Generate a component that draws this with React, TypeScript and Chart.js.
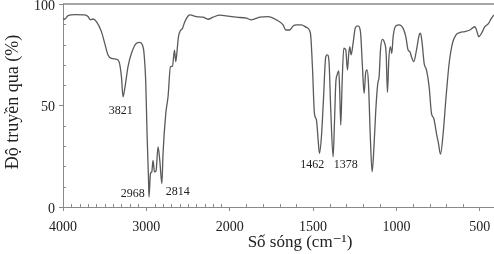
import React, { useEffect, useRef } from 'react';
import { Chart, registerables } from 'chart.js';

Chart.register(...registerables);

// Spectrum (wavenumber in cm-1, transmittance in %)
const wavenumbers = [
  4000, 3980, 3940, 3860, 3740, 3700, 3671, 3640, 3599, 3539, 3500, 3460, 3419, 3359, 3328, 3299,
  3280, 3256, 3220, 3179, 3119, 3079, 3047, 3028, 3007, 2992, 2975, 2968, 2951, 2935, 2920, 2903,
  2884, 2860, 2839, 2814, 2800, 2767, 2740, 2711, 2687, 2663, 2647, 2631, 2615, 2591, 2567, 2539,
  2499, 2479, 2399, 2320, 2260, 2200, 2119, 2039, 1960, 1900, 1870, 1820, 1770, 1720, 1680, 1664,
  1640, 1620, 1600, 1570, 1540, 1516, 1504, 1492, 1480, 1468, 1462, 1450, 1438, 1424, 1414, 1404,
  1394, 1380, 1372, 1364, 1356, 1346, 1340, 1334, 1326, 1316, 1304, 1294, 1286, 1280, 1272, 1260,
  1246, 1230, 1216, 1204, 1194, 1184, 1176, 1168, 1156, 1146, 1136, 1124, 1112, 1104, 1096, 1085,
  1073, 1062, 1054, 1046, 1037, 1028, 1020, 1004, 984, 960, 944, 930, 920, 910, 896, 880, 864, 856,
  846, 834, 820, 804, 790, 776, 760, 748, 736, 720, 704, 684, 664, 644, 620, 590, 560, 530, 520, 506,
  490, 470, 450, 430, 416,
];
const transmittance = [
  93, 92.5, 94.3, 94.8, 94.6, 93.8, 92.2, 92.6, 91.3, 86.4, 80.7, 74.9, 73.2, 72.8, 71.6, 64.2,
  54.3, 59.2, 69.1, 75.7, 80.7, 81.1, 79.8, 75.7, 61, 36.4, 14.8, 4.9, 16.5, 17.3, 23, 17.3,
  17.8, 29.6, 23, 11.5, 26.4, 46.1, 54.3, 69.1, 69.4, 77.3, 71.6, 77.3, 83.9, 86.9, 88, 91.3,
  94.1, 94.6, 93.8, 93.5, 92.5, 93.5, 94.5, 94.1, 93.5, 93, 92.2, 93.5, 93.8, 92.2, 89.7, 87.2,
  87.2, 89.2, 89.7, 89.7, 88.5, 85.6, 69.1, 46.1, 42.8, 31.3, 26.4, 34.6, 52.7, 74, 74.9, 70.8,
  47.7, 24.7, 41.2, 60.9, 65, 67, 56, 40.3, 60.9, 78.2, 77.3, 67.5, 75.7, 79, 74.9, 80.7,
  88.5, 89.2, 86.4, 69.1, 56, 66.6, 67.5, 60.9, 32.9, 17.3, 28, 47.7, 60.9, 64.2, 77.3, 82.6,
  81.2, 75.7, 56.5, 72.4, 79, 75.7, 83.9, 89.2, 89.7, 88, 83.9, 77.3, 76.5, 74, 71.6, 77.3, 84.7, 85.6,
  80.7, 70.8, 67.5, 59.2, 46.1, 43.6, 36.2, 31.3, 26, 36.2, 52.7, 70.8, 80.7, 84.7, 85.9, 86.4, 87.2, 88.8, 87.2, 83.9,
  85.6, 88.8, 90.2, 93, 94.6,
];

const xTickValues = [4000, 3000, 2000, 1500, 1000, 500];
const xMinorStep = 100;
const yTickValues = [0, 50, 100];
const yMinorStep = 10;
const xStart = 4000;
const xEnd = 415;

const peakLabels = ['3821', '2968', '2814', '1462', '1378'];
const peakLabelWavenumbers = [3308, 3164, 2624, 1505, 1304];
const peakLabelTransmittance = [47.2, 6.3, 7.7, 21, 21];

const yTitle = 'Độ truyền qua (%)';
const xTitle = 'Số sóng (cm⁻¹)';

const FONT = "'Liberation Serif', 'DejaVu Serif', serif";
const AXIS_COLOR = '#8a8a8a';
const TEXT_COLOR = '#222222';

// Spectrometer axis: 1000 cm-1 per division above 2000, 500 cm-1 per division below.
function toAxis(wn: number): number {
  return wn >= 2000 ? (4000 - wn) / 1000 : 2 + (2000 - wn) / 500;
}
function fromAxis(u: number): number {
  return u <= 2 ? 4000 - u * 1000 : 2000 - (u - 2) * 500;
}

const decorPlugin = {
  id: 'decor',
  afterDraw(chart: any) {
    const { ctx, chartArea, scales } = chart;
    const xs = scales.x;
    const ys = scales.y;
    ctx.save();
    // top frame line
    ctx.strokeStyle = AXIS_COLOR;
    ctx.lineWidth = 1.5;
    ctx.beginPath();
    ctx.moveTo(chartArea.left, chartArea.top);
    ctx.lineTo(chartArea.right, chartArea.top);
    ctx.stroke();
    // minor ticks
    ctx.lineWidth = 1;
    ctx.beginPath();
    for (let wn = xStart; wn >= 500; wn -= xMinorStep) {
      if (xTickValues.includes(wn)) continue;
      const px = Math.round(xs.getPixelForValue(toAxis(wn))) + 0.5;
      ctx.moveTo(px, chartArea.bottom);
      ctx.lineTo(px, chartArea.bottom - 3);
    }
    for (let t = 0; t <= 100; t += yMinorStep) {
      if (yTickValues.includes(t)) continue;
      const py = Math.round(ys.getPixelForValue(t)) + 0.5;
      ctx.moveTo(chartArea.left, py);
      ctx.lineTo(chartArea.left + 3, py);
    }
    ctx.stroke();
    // peak labels
    ctx.fillStyle = TEXT_COLOR;
    ctx.font = `12px ${FONT}`;
    ctx.textAlign = 'center';
    ctx.textBaseline = 'middle';
    peakLabels.forEach((lab, i) => {
      ctx.fillText(
        lab,
        xs.getPixelForValue(toAxis(peakLabelWavenumbers[i])),
        ys.getPixelForValue(peakLabelTransmittance[i])
      );
    });
    // axis titles
    ctx.font = `17px ${FONT}`;
    ctx.fillText(xTitle, 300, 243);
    ctx.translate(13, 102);
    ctx.rotate(-Math.PI / 2);
    ctx.font = `18px ${FONT}`;
    ctx.fillText(yTitle, 0, 0);
    ctx.restore();
  },
};

export default function App() {
  const canvasRef = useRef<HTMLCanvasElement | null>(null);

  useEffect(() => {
    const canvas = canvasRef.current;
    if (!canvas) return;
    const points = wavenumbers.map((wn, i) => ({ x: toAxis(wn), y: transmittance[i] }));
    const chart = new Chart(canvas, {
      type: 'scatter',
      data: {
        datasets: [
          {
            data: points,
            showLine: true,
            borderColor: '#5a5a5a',
            borderWidth: 1.3,
            pointRadius: 0,
            cubicInterpolationMode: 'monotone',
            fill: false,
          },
        ],
      },
      options: {
        animation: false,
        responsive: false,
        devicePixelRatio: 1,
        layout: { padding: { top: 4, right: 0, left: 0, bottom: 0 } },
        plugins: { legend: { display: false }, tooltip: { enabled: false } },
        scales: {
          x: {
            type: 'linear',
            min: toAxis(xStart),
            max: toAxis(xEnd),
            afterBuildTicks: (scale: any) => {
              scale.ticks = xTickValues.map((v) => ({ value: toAxis(v) }));
            },
            afterFit: (scale: any) => {
              scale.height = 47;
              scale.paddingLeft = 0;
              scale.paddingRight = 0;
            },
            ticks: {
              autoSkip: false,
              maxRotation: 0,
              padding: 8,
              color: TEXT_COLOR,
              font: { family: FONT, size: 14 },
              callback: (v: any) => String(Math.round(fromAxis(Number(v)))),
            },
            grid: { drawOnChartArea: false, drawTicks: true, tickLength: 4, color: AXIS_COLOR },
            border: { display: true, color: AXIS_COLOR, width: 1 },
          },
          y: {
            type: 'linear',
            min: 0,
            max: 100,
            afterBuildTicks: (scale: any) => {
              scale.ticks = yTickValues.map((v) => ({ value: v }));
            },
            afterFit: (scale: any) => {
              scale.width = 63;
              scale.paddingTop = 0;
              scale.paddingBottom = 0;
            },
            ticks: {
              padding: 4,
              labelOffset: 2,
              color: TEXT_COLOR,
              font: { family: FONT, size: 14 },
            },
            grid: { drawOnChartArea: false, drawTicks: true, tickLength: 4, color: AXIS_COLOR },
            border: { display: true, color: AXIS_COLOR, width: 1 },
          },
        },
      },
      plugins: [decorPlugin],
    } as any);
    return () => chart.destroy();
  }, []);

  return (
    <div style={{ position: 'fixed', left: 0, top: 0, width: 494, height: 254, background: '#fff' }}>
      <canvas ref={canvasRef} width={494} height={254} style={{ width: 494, height: 254 }} />
    </div>
  );
}
